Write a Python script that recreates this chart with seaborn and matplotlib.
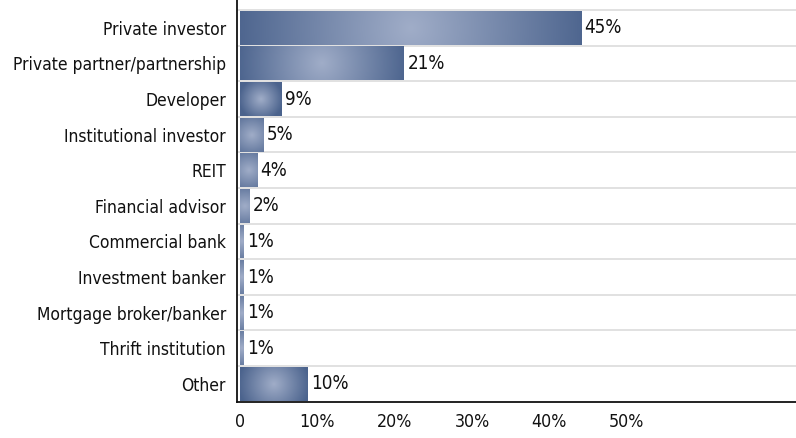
import numpy as np
import pandas as pd
import matplotlib
matplotlib.use("Agg")
import matplotlib.pyplot as plt
import seaborn as sns
from matplotlib.colors import LinearSegmentedColormap

categories = ["Private investor", "Private partner/partnership", "Developer",
              "Institutional investor", "REIT", "Financial advisor",
              "Commercial bank", "Investment banker", "Mortgage broker/banker",
              "Thrift institution", "Other"]
bar_values = [44.1, 21.2, 5.4, 3.0, 2.2, 1.2, 0.5, 0.5, 0.5, 0.5, 8.7]
value_labels = ["45%", "21%", "9%", "5%", "4%", "2%", "1%", "1%", "1%", "1%", "10%"]
x_ticks = [0, 10, 20, 30, 40, 50]
x_tick_labels = ["0", "10%", "20%", "30%", "40%", "50%"]

sns.set_theme(style="white")
plt.rcParams['font.family'] = ['DejaVu Sans']
plt.rcParams['font.stretch'] = 'condensed'

W, H = 796, 438
fig = plt.figure(figsize=(W / 100, H / 100), dpi=100)
ax_left, ax_bottom = 237, 36.3
ax = fig.add_axes([ax_left / W, ax_bottom / H, 1 - ax_left / W, 1 - ax_bottom / H])

df = pd.DataFrame({"category": categories, "value": bar_values})
sns.barplot(data=df, x="value", y="category", orient="h", color="#8494b6",
            width=0.95, saturation=1, ax=ax, zorder=2)

xlim = (-0.39, 71.9)
ylim = (10.5, -0.78)
px_x = (W - ax_left) / (xlim[1] - xlim[0])
px_y = (H - ax_bottom) / (ylim[0] - ylim[1])

# radial gradient fill clipped to each bar (radius from the larger half-side in pixels)
cmap = LinearSegmentedColormap.from_list("barg", ["#a0adc8", "#4b638d"])
ny, nx = 64, 256
for p in list(ax.patches):
    x0, y0 = p.get_x(), p.get_y()
    w, h = p.get_width(), p.get_height()
    if w <= 0:
        continue
    hw, hh = w * px_x / 2, h * px_y / 2
    R = max(hw, hh) * (1.05 if hw >= 0.8 * hh else 1.6)
    yy, xx = np.mgrid[-hh:hh:ny * 1j, -hw:hw:nx * 1j]
    t = np.clip(np.sqrt(xx ** 2 + yy ** 2) / R, 0, 1)
    im = ax.imshow(t, cmap=cmap, vmin=0, vmax=1, extent=(x0, x0 + w, y0 + h, y0),
                   aspect="auto", interpolation="bilinear", zorder=2.5)
    im.set_clip_path(p)
    p.set_edgecolor("none")

for b in np.arange(-0.5, 10, 1.0):
    ax.axhline(b, color="#dcdcdc", lw=1.2, zorder=0.5)

for i, (v, lab) in enumerate(zip(bar_values, value_labels)):
    ax.text(v + 0.45, i, lab, ha="left", va="center", fontsize=13.5, color="#111111", zorder=4)

ax.set_xlim(*xlim)
ax.set_ylim(*ylim)
ax.set_xticks(x_ticks)
ax.set_xticklabels(x_tick_labels)
ax.set_xlabel("")
ax.set_ylabel("")
ax.tick_params(axis="both", length=0, colors="#111111")
ax.tick_params(axis="y", pad=8, labelsize=12.5)
ax.tick_params(axis="x", pad=8, labelsize=12.8)
for s in ["top", "right"]:
    ax.spines[s].set_visible(False)
for s in ["left", "bottom"]:
    ax.spines[s].set_color("#111111")
    ax.spines[s].set_linewidth(1.3)

fig.savefig("out.png", dpi=100, facecolor="white")
